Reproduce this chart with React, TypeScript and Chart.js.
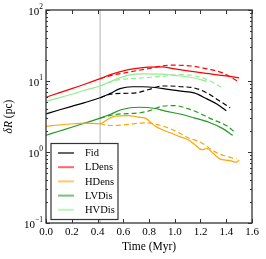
import { useEffect, useRef } from "react";
import { Chart, registerables } from "chart.js";

Chart.register(...registerables);

// ---- data ----
const seriesNames = ["Fid", "LDens", "HDens", "LVDis", "HVDis"];
const seriesColors = ["#000000", "#ff0000", "#ffa500", "#229922", "#90ee90"];

const fidSolidT = [0, 0.1, 0.2, 0.3, 0.42, 0.5, 0.575, 0.67, 0.75, 0.85, 0.95, 1.05, 1.15, 1.25, 1.33, 1.4];
const fidSolidR = [3.45, 3.9, 4.4, 4.95, 5.8, 6.7, 7.8, 8.3, 8.3, 8.1, 7.6, 7.2, 6.8, 5.6, 4.7, 3.8];
const fidDashT = [0.42, 0.5, 0.6, 0.7, 0.8, 0.9, 0.96, 1.05, 1.15, 1.25, 1.33, 1.43];
const fidDashR = [5.8, 6.5, 6.7, 6.8, 7.6, 8.5, 8.5, 8.3, 8.0, 6.8, 5.5, 4.2];

const ldensSolidT = [0, 0.1, 0.2, 0.3, 0.42, 0.5, 0.64, 0.77, 0.9, 1.0, 1.2, 1.4, 1.5];
const ldensSolidR = [5.9, 6.8, 7.8, 9.0, 10.8, 12.3, 14.5, 15.6, 15.8, 14.8, 13.1, 11.8, 11.1];
const ldensDashT = [0.42, 0.51, 0.64, 0.8, 0.96, 1.14, 1.25, 1.37, 1.49];
const ldensDashR = [10.8, 12.0, 13.3, 15.0, 16.7, 16.2, 14.8, 13.0, 9.9];

const hdensSolidT = [0, 0.1, 0.22, 0.3, 0.42, 0.48, 0.54, 0.64, 0.72, 0.77, 0.85, 0.9, 0.97, 1.03, 1.1, 1.15, 1.21, 1.25, 1.3, 1.35, 1.42, 1.48, 1.5];
const hdensSolidR = [2.3, 2.4, 2.5, 2.55, 2.5, 2.9, 3.2, 3.26, 3.1, 3.0, 2.3, 2.07, 1.85, 1.67, 1.5, 1.3, 1.08, 1.12, 0.95, 0.8, 0.76, 0.72, 0.77];
const hdensDashT = [0.42, 0.5, 0.64, 0.77, 0.88, 1.0, 1.1, 1.2, 1.25, 1.3, 1.4, 1.48];
const hdensDashR = [2.5, 2.36, 2.44, 2.58, 2.4, 2.0, 1.6, 1.37, 1.2, 1.03, 0.87, 0.8];

const lvdisSolidT = [0, 0.1, 0.2, 0.3, 0.42, 0.5, 0.59, 0.72, 0.85, 0.92, 1.05, 1.15, 1.27, 1.37, 1.45];
const lvdisSolidR = [1.72, 1.96, 2.23, 2.55, 3.0, 3.4, 3.97, 4.27, 4.1, 3.8, 3.4, 3.03, 2.6, 2.15, 1.72];
const lvdisDashT = [0.42, 0.54, 0.73, 0.8, 0.9, 1.0, 1.08, 1.18, 1.27, 1.41, 1.47];
const lvdisDashR = [3.0, 3.37, 3.57, 3.8, 4.4, 4.5, 4.2, 3.6, 3.0, 2.3, 1.88];

const hvdisSolidT = [0, 0.1, 0.2, 0.3, 0.42, 0.5, 0.64, 0.77, 0.9, 1.0, 1.14, 1.25];
const hvdisSolidR = [5.2, 5.8, 6.5, 7.4, 8.5, 9.8, 12.1, 12.6, 12.5, 12.0, 11.1, 9.9];
const hvdisDashT = [0.42, 0.54, 0.7, 0.85, 0.92, 1.04, 1.15, 1.25, 1.37];
const hvdisDashR = [8.5, 10.2, 10.9, 11.4, 11.7, 12.3, 11.8, 10.5, 8.0];

const markerTime = 0.42;
const xTicks = [0, 0.2, 0.4, 0.6, 0.8, 1.0, 1.2, 1.4, 1.6];
const yDecades = [-1, 0, 1, 2];
const xTitle = "Time (Myr)";
const yTitle = "(pc)";

const solidSets = [
  [fidSolidT, fidSolidR],
  [ldensSolidT, ldensSolidR],
  [hdensSolidT, hdensSolidR],
  [lvdisSolidT, lvdisSolidR],
  [hvdisSolidT, hvdisSolidR],
];
const dashSets = [
  [fidDashT, fidDashR],
  [ldensDashT, ldensDashR],
  [hdensDashT, hdensDashR],
  [lvdisDashT, lvdisDashR],
  [hvdisDashT, hvdisDashR],
];

const FONT = "'Liberation Serif', 'DejaVu Serif', serif";

const pts = (t: number[], r: number[]) => t.map((x, i) => ({ x, y: r[i] }));

const decorPlugin = {
  id: "decor",
  afterDatasetsDraw(chart: any) {
    const { ctx, chartArea: a, scales } = chart;
    const xs = scales.x;
    const ys = scales.y;
    ctx.save();
    // frame
    ctx.strokeStyle = "#333333";
    ctx.lineWidth = 1.3;
    ctx.strokeRect(a.left, a.top, a.right - a.left, a.bottom - a.top);
    // x ticks
    ctx.lineWidth = 1;
    ctx.beginPath();
    xTicks.forEach((v) => {
      const px = Math.round(xs.getPixelForValue(v)) + 0.5;
      ctx.moveTo(px, a.bottom);
      ctx.lineTo(px, a.bottom - 4);
      ctx.moveTo(px, a.top);
      ctx.lineTo(px, a.top + 4);
    });
    // y ticks
    yDecades.forEach((d) => {
      for (let k = 1; k <= 9; k++) {
        const v = k * Math.pow(10, d);
        if (v > 100.0001) continue;
        const py = Math.round(ys.getPixelForValue(v)) + 0.5;
        const len = k === 1 ? 4 : 2;
        ctx.moveTo(a.left, py);
        ctx.lineTo(a.left + len, py);
        ctx.moveTo(a.right, py);
        ctx.lineTo(a.right - len, py);
      }
    });
    ctx.stroke();

    // y tick labels
    ctx.fillStyle = "#000";
    ctx.textBaseline = "middle";
    yDecades.forEach((d) => {
      const py = ys.getPixelForValue(Math.pow(10, d));
      const exp = d < 0 ? "\u2212" + Math.abs(d) : String(d);
      ctx.font = `7.5px ${FONT}`;
      const ew = ctx.measureText(exp).width;
      const right = a.left - 3;
      ctx.textAlign = "left";
      ctx.fillText(exp, right - ew, py - 3);
      ctx.font = `11px ${FONT}`;
      ctx.textAlign = "right";
      ctx.fillText("10", right - ew, py + 2);
    });

    // x title
    ctx.font = `11.5px ${FONT}`;
    ctx.textAlign = "center";
    ctx.textBaseline = "middle";
    ctx.fillText(xTitle, (a.left + a.right) / 2, 247);

    // y title
    ctx.save();
    ctx.translate(9, (a.top + a.bottom) / 2);
    ctx.rotate(-Math.PI / 2);
    ctx.font = `italic 11.5px ${FONT}`;
    const p1 = "\u03b4R ";
    const w1 = ctx.measureText(p1).width;
    ctx.font = `11.5px ${FONT}`;
    const w2 = ctx.measureText(yTitle).width;
    const start = -(w1 + w2) / 2;
    ctx.textAlign = "left";
    ctx.font = `italic 11.5px ${FONT}`;
    ctx.fillText(p1, start, 0);
    ctx.font = `11.5px ${FONT}`;
    ctx.fillText(yTitle, start + w1, 0);
    ctx.restore();

    // legend
    const lx = a.left + 5;
    const ly = 143.5;
    const lw = 67;
    const lh = 76;
    ctx.fillStyle = "#ffffff";
    ctx.fillRect(lx, ly, lw, lh);
    ctx.strokeStyle = "#333333";
    ctx.lineWidth = 1.2;
    ctx.strokeRect(lx, ly, lw, lh);
    seriesNames.forEach((name, i) => {
      const yy = ly + 9.5 + i * 14.2;
      ctx.save();
      ctx.globalAlpha = 0.6;
      ctx.strokeStyle = seriesColors[i];
      ctx.lineWidth = 2;
      ctx.beginPath();
      ctx.moveTo(lx + 7, yy);
      ctx.lineTo(lx + 23, yy);
      ctx.stroke();
      ctx.restore();
      ctx.fillStyle = "#000";
      ctx.font = `10.5px ${FONT}`;
      ctx.textAlign = "left";
      ctx.textBaseline = "middle";
      ctx.fillText(name, lx + 34, yy + 0.5);
    });
    ctx.restore();
  },
};

export default function App() {
  const ref = useRef<HTMLCanvasElement | null>(null);
  useEffect(() => {
    if (!ref.current) return;
    const datasets: any[] = [];
    solidSets.forEach(([t, r], i) => {
      datasets.push({
        label: seriesNames[i],
        data: pts(t, r),
        borderColor: seriesColors[i],
        borderWidth: 1.2,
        pointRadius: 0,
        cubicInterpolationMode: "monotone",
        fill: false,
        order: 1,
      });
    });
    dashSets.forEach(([t, r], i) => {
      datasets.push({
        label: seriesNames[i] + " dashed",
        data: pts(t, r),
        borderColor: seriesColors[i],
        borderWidth: 1.2,
        borderDash: [5, 3],
        pointRadius: 0,
        cubicInterpolationMode: "monotone",
        fill: false,
        order: 1,
      });
    });
    datasets.push({
      label: "marker",
      data: [
        { x: markerTime, y: 0.1 },
        { x: markerTime, y: 100 },
      ],
      borderColor: "#c4c4c4",
      borderWidth: 1.3,
      pointRadius: 0,
      fill: false,
      order: 2,
    });

    const chart = new Chart(ref.current, {
      type: "line",
      data: { datasets },
      options: {
        animation: false,
        responsive: false,
        devicePixelRatio: 1,
        layout: { padding: { top: 10, right: 14, left: 0, bottom: 0 } },
        plugins: { legend: { display: false }, tooltip: { enabled: false } },
        scales: {
          x: {
            type: "linear",
            min: 0,
            max: 1.6,
            grid: { display: false, drawTicks: false },
            border: { display: false },
            afterBuildTicks: (s: any) => {
              s.ticks = xTicks.map((v) => ({ value: v }));
            },
            afterFit: (s: any) => {
              s.height = 36;
            },
            ticks: {
              autoSkip: false,
              maxRotation: 0,
              padding: 3,
              color: "#000",
              font: { family: FONT, size: 11 },
              callback: (v: any) => Number(v).toFixed(1),
            },
          },
          y: {
            type: "logarithmic",
            min: 0.1,
            max: 100,
            grid: { display: false, drawTicks: false },
            border: { display: false },
            ticks: { display: false },
            afterFit: (s: any) => {
              s.width = 46;
            },
          },
        },
      },
      plugins: [decorPlugin],
    } as any);
    return () => chart.destroy();
  }, []);
  return (
    <div style={{ position: "fixed", left: 0, top: 0, width: 266, height: 259, background: "#fff" }}>
      <canvas ref={ref} width={266} height={259} style={{ width: 266, height: 259 }} />
    </div>
  );
}
